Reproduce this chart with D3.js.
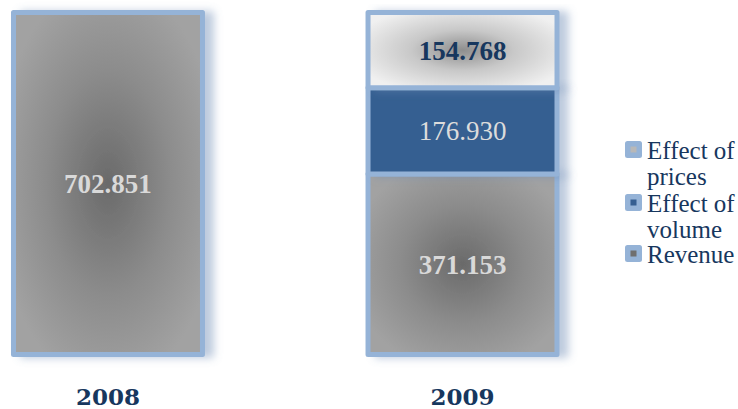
<!DOCTYPE html>
<html>
<head>
<meta charset="utf-8">
<script src="https://cdn.jsdelivr.net/npm/d3@7/dist/d3.min.js"></script>
<style>
html,body{margin:0;padding:0;background:#fff;}
svg{display:block;}
</style>
</head>
<body>
<svg id="chart" width="738" height="409"></svg>
<script>
const categories = ["2008", "2009"];
const seriesNames = ["Revenue", "Effect of volume", "Effect of prices"];
const revenue = [702.851, 371.153];
const effectOfVolume = [0, 176.930];
const effectOfPrices = [0, 154.768];
const legendLabels = [["Effect of", "prices"], ["Effect of", "volume"], ["Revenue"]];
const legendKeys = ["Effect of prices", "Effect of volume", "Revenue"];

const rows = categories.map((c, i) => ({
  cat: c,
  "Revenue": revenue[i],
  "Effect of volume": effectOfVolume[i],
  "Effect of prices": effectOfPrices[i]
}));

const svg = d3.select("#chart");
const defs = svg.append("defs");

const g1 = defs.append("radialGradient").attr("id", "grayGrad")
  .attr("cx", "50%").attr("cy", "50%").attr("r", "60%");
g1.append("stop").attr("offset", "0%").attr("stop-color", "#6a6a6a");
g1.append("stop").attr("offset", "55%").attr("stop-color", "#8c8c8c");
g1.append("stop").attr("offset", "100%").attr("stop-color", "#a2a2a2");

const g2 = defs.append("radialGradient").attr("id", "lightGrad")
  .attr("cx", "50%").attr("cy", "50%").attr("r", "60%");
g2.append("stop").attr("offset", "0%").attr("stop-color", "#8e8e8e");
g2.append("stop").attr("offset", "45%").attr("stop-color", "#c8c8c8");
g2.append("stop").attr("offset", "100%").attr("stop-color", "#f0f0f0");

const f = defs.append("filter").attr("id", "shadow")
  .attr("x", "-10%").attr("y", "-10%").attr("width", "140%").attr("height", "130%");
f.append("feDropShadow").attr("dx", 9).attr("dy", 1).attr("stdDeviation", 4)
  .attr("flood-color", "#6d8bb5").attr("flood-opacity", 0.45);

const fills = {
  "Revenue": "url(#grayGrad)",
  "Effect of volume": "#365f91",
  "Effect of prices": "url(#lightGrad)"
};
const legendFills = {
  "Revenue": "#6f6f6f",
  "Effect of volume": "#365f91",
  "Effect of prices": "#b8b8b8"
};
const labelStyle = {
  "Revenue": {color: "#d9d9d9", weight: "bold"},
  "Effect of volume": {color: "#dcdcdc", weight: "normal"},
  "Effect of prices": {color: "#17375e", weight: "bold"}
};

const x = d3.scaleBand().domain(categories).range([13.5, 557]).paddingInner(0.467).paddingOuter(0);
const y = d3.scaleLinear().domain([0, revenue[0]]).range([354.5, 12.5]);

const stacked = d3.stack().keys(seriesNames)(rows);

const layers = svg.append("g").selectAll("g.layer").data(stacked).join("g")
  .attr("class", "layer");

layers.each(function(layer) {
  const key = layer.key;
  d3.select(this).selectAll("rect").data(layer.filter(d => d[1] - d[0] > 0)).join("rect")
    .attr("x", d => x(d.data.cat))
    .attr("width", x.bandwidth())
    .attr("y", d => y(d[1]))
    .attr("height", d => y(d[0]) - y(d[1]))
    .attr("fill", fills[key])
    .attr("stroke", "#95b3d7")
    .attr("stroke-width", 5)
    .attr("stroke-linejoin", "round")
    .attr("filter", "url(#shadow)");
});

layers.each(function(layer) {
  const key = layer.key;
  const st = labelStyle[key];
  d3.select(this).selectAll("text").data(layer.filter(d => d[1] - d[0] > 0)).join("text")
    .attr("x", d => x(d.data.cat) + x.bandwidth() / 2)
    .attr("y", d => (y(d[0]) + y(d[1])) / 2)
    .attr("dy", "0.35em")
    .attr("text-anchor", "middle")
    .attr("font-family", "'Liberation Serif', serif")
    .attr("font-size", 27)
    .attr("font-weight", st.weight)
    .attr("fill", st.color)
    .text(d => (d[1] - d[0]).toFixed(3));
});

const xAxis = d3.axisBottom(x).tickSize(0).tickPadding(0);
const ax = svg.append("g").attr("transform", "translate(0,388)").call(xAxis);
ax.select(".domain").remove();
ax.selectAll("text")
  .attr("dy", "0.72em")
  .attr("font-family", "'DejaVu Serif', serif")
  .attr("font-size", 23)
  .attr("font-weight", "bold")
  .attr("fill", "#17375e");

const legendTop = [141, 194, 245];
const lg = svg.append("g");
legendKeys.forEach((k, i) => {
  const gi = lg.append("g").attr("transform", `translate(625,${legendTop[i]})`);
  gi.append("rect").attr("width", 17).attr("height", 17).attr("rx", 2.5)
    .attr("fill", "#95b3d7");
  gi.append("rect").attr("x", 5.5).attr("y", 5.5).attr("width", 6).attr("height", 6)
    .attr("fill", legendFills[k]);
  const t = gi.append("text")
    .attr("x", 22).attr("y", 18)
    .attr("font-family", "'Liberation Serif', serif")
    .attr("font-size", 25)
    .attr("fill", "#17375e");
  legendLabels[i].forEach((line, j) => {
    t.append("tspan").attr("x", 22).attr("dy", j === 0 ? 0 : 25.5).text(line);
  });
});
</script>
</body>
</html>
